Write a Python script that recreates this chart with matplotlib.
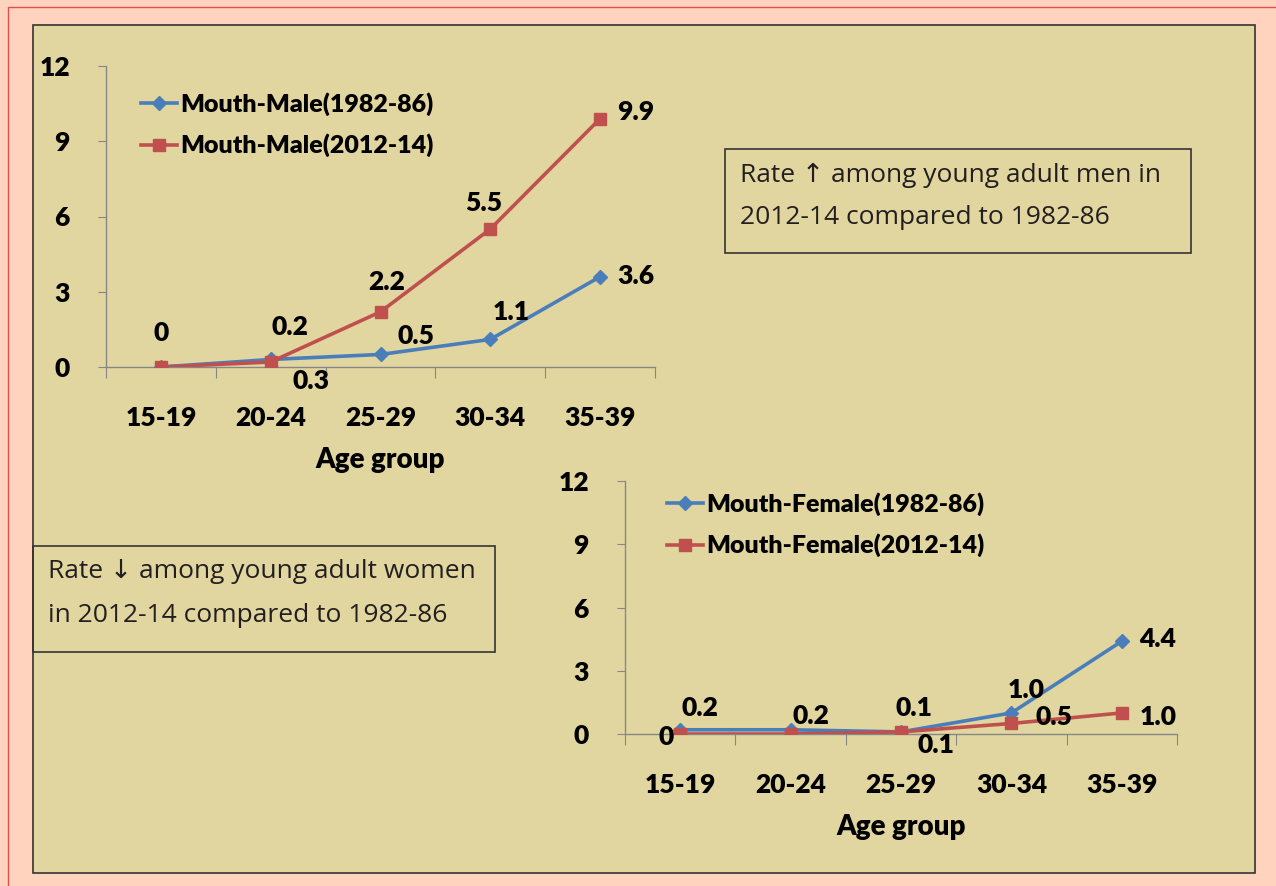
import matplotlib
matplotlib.use("Agg")
import matplotlib.pyplot as plt
from matplotlib.patches import Rectangle

# data
age_groups = ["15-19", "20-24", "25-29", "30-34", "35-39"]
male_1982 = [0, 0.3, 0.5, 1.1, 3.6]
male_2012 = [0, 0.2, 2.2, 5.5, 9.9]
female_1982 = [0.2, 0.2, 0.1, 1.0, 4.4]
female_2012 = [0, 0, 0.1, 0.5, 1.0]
y_ticks = [0, 3, 6, 9, 12]

# (series, index, text, dx px, dy px)
male_labels = [
    ("2012", 0, "0", 0, 34),
    ("2012", 1, "0.2", 19, 35),
    ("1982", 1, "0.3", 40, -22),
    ("2012", 2, "2.2", 6, 30),
    ("1982", 2, "0.5", 35, 18),
    ("2012", 3, "5.5", -7, 26),
    ("1982", 3, "1.1", 21, 27),
    ("2012", 4, "9.9", 36, 7),
    ("1982", 4, "3.6", 36, 1),
]
female_labels = [
    ("2012", 0, "0", -14, -3),
    ("1982", 0, "0.2", 20, 22),
    ("1982", 1, "0.2", 20, 14),
    ("1982", 2, "0.1", 13, 24),
    ("2012", 2, "0.1", 35, -13),
    ("1982", 3, "1.0", 15, 23),
    ("2012", 3, "0.5", 43, 6),
    ("1982", 4, "4.4", 36, 2),
    ("2012", 4, "1.0", 36, -4),
]

W, H = 1276, 886
BLUE = "#4A7EBB"
RED = "#C0504D"
KHAKI = "#E1D69F"
PEACH = "#FFD3BE"
GRID = "#878787"
BOLD = ["Lato", "DejaVu Sans"]
WT = "heavy"
BOXFONT = ["Open Sans", "DejaVu Sans"]

fig = plt.figure(figsize=(W / 100, H / 100), dpi=100)
fig.patch.set_facecolor(PEACH)


def fx(px):
    return px / W


def fy(py):
    return 1 - py / H


def frect(x0, y0, x1, y1, z=1, **kw):
    r = Rectangle((fx(x0), fy(y1)), fx(x1 - x0), (y1 - y0) / H,
                  transform=fig.transFigure, zorder=z, **kw)
    fig.patches.append(r)


frect(8, 7, W + 10, H + 10, z=-10, facecolor="none", edgecolor="#D9534F", lw=1)
frect(33, 25, 1255, 873, z=-5, facecolor=KHAKI, edgecolor="#333333", lw=1.2)


def make_axes(left, top, right, bottom, s1, s2, labels, names, leg_xy):
    ax = fig.add_axes([fx(left), fy(bottom), fx(right - left), (bottom - top) / H])
    ax.set_facecolor("none")
    x = list(range(len(age_groups)))
    ax.plot(x, s1, color=BLUE, lw=2.6, marker="D", ms=7, label=names[0], zorder=3)
    ax.plot(x, s2, color=RED, lw=2.6, marker="s", ms=8.5, label=names[1], zorder=4)
    ax.set_xlim(-0.5, 4.5)
    ax.set_ylim(0, 12)
    ax.set_yticks(y_ticks)
    ax.set_yticklabels([str(t) for t in y_ticks], fontsize=19, fontweight=WT,
                       family=BOLD)
    ax.set_xticks([i - 0.5 for i in range(6)])
    ax.set_xticklabels([])
    ax.set_xticks(x, minor=True)
    ax.set_xticklabels(age_groups, minor=True, fontsize=19, fontweight=WT,
                       family=BOLD)
    ax.tick_params(axis="x", which="major", length=8, color=GRID, direction="out")
    ax.tick_params(axis="x", which="minor", length=0, pad=28)
    ax.tick_params(axis="y", length=6, color=GRID, pad=20)
    for s in ("top", "right"):
        ax.spines[s].set_visible(False)
    for s in ("left", "bottom"):
        ax.spines[s].set_color(GRID)
        ax.spines[s].set_linewidth(1)
    ax.set_xlabel("Age group", fontsize=20, fontweight=WT, family=BOLD,
                  labelpad=12)
    for ser, i, txt, dx, dy in labels:
        yv = s1[i] if ser == "1982" else s2[i]
        ax.annotate(txt, (i, yv), xytext=(dx, dy), textcoords="offset pixels",
                    ha="center", va="center", fontsize=19, fontweight=WT,
                    family=BOLD, zorder=6, annotation_clip=False)
    ax.legend(loc="upper left", bbox_to_anchor=(fx(leg_xy[0]), fy(leg_xy[1])),
              bbox_transform=fig.transFigure, frameon=False,
              prop={"family": BOLD, "weight": WT, "size": 18},
              handlelength=1.45, handletextpad=0.1, labelspacing=0.72,
              borderaxespad=0, borderpad=0)
    return ax


make_axes(106, 66, 655, 367, male_1982, male_2012, male_labels,
          ["Mouth-Male(1982-86)", "Mouth-Male(2012-14)"], (141, 92))
make_axes(625, 481, 1177, 734, female_1982, female_2012, female_labels,
          ["Mouth-Female(1982-86)", "Mouth-Female(2012-14)"], (667, 492))

# annotation boxes
frect(725, 149, 1191, 253, facecolor="none", edgecolor="#333333", lw=1.2)
fig.text(fx(740), fy(175), "Rate \u2191 among young adult men in",
         fontsize=19, family=BOXFONT, color="#231F20", va="center", ha="left")
fig.text(fx(740), fy(218), "2012-14 compared to 1982-86",
         fontsize=19, family=BOXFONT, color="#231F20", va="center", ha="left")
frect(33, 546, 495, 652, facecolor="none", edgecolor="#333333", lw=1.2)
fig.text(fx(48), fy(572), "Rate \u2193 among young adult women",
         fontsize=19, family=BOXFONT, color="#231F20", va="center", ha="left")
fig.text(fx(48), fy(615), "in 2012-14 compared to 1982-86",
         fontsize=19, family=BOXFONT, color="#231F20", va="center", ha="left")

fig.savefig("out.png", dpi=100, facecolor=fig.get_facecolor())
